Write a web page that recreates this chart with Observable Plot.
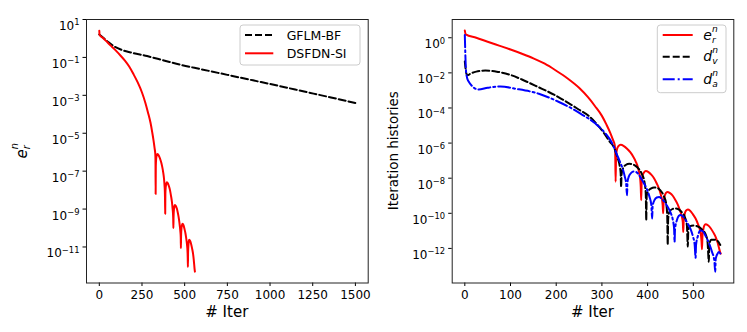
<!DOCTYPE html>
<html><head><meta charset="utf-8">
<script src="https://cdn.jsdelivr.net/npm/d3@7"></script>
<script src="https://cdn.jsdelivr.net/npm/@observablehq/plot@0.6"></script>
<style>
html,body{margin:0;padding:0;background:#fff;}
#root{position:relative;width:747px;height:332px;overflow:hidden;font-family:"DejaVu Sans",sans-serif;}
#root .pan{position:absolute;top:0;}
#root svg.overlay{position:absolute;left:0;top:0;pointer-events:none;}
</style></head><body><div id="root"></div>
<script>
// ---------------- DATA (values are log10 exponents) ----------------
// Left panel: GFLM-BF
const gflmIter = [0, 25, 50, 85, 130, 183, 280, 378, 475, 600, 750, 900, 1050, 1200, 1350, 1500];
const gflmExp  = [0.21, 0.02, -0.17, -0.41, -0.6, -0.74, -0.93, -1.16, -1.39, -1.63, -1.92, -2.21, -2.5, -2.8, -3.1, -3.41];

// DSFDN-SI  (= e_r^n in right panel)
const erIter = [0, 2, 25, 50, 75, 100, 125, 150, 175, 200, 225, 250, 270, 285, 300, 310, 318, 324, 328, 329, 330,
  331, 333, 336, 341, 348, 355, 362, 368, 374, 379, 382, 384, 385, 386,
  387, 389, 392, 396, 402, 408, 414, 420, 425, 429, 432, 433, 434,
  435, 437, 440, 443, 449, 455, 461, 466, 471, 475, 477, 478,
  479, 481, 484, 488, 493, 499, 505, 510, 514, 517, 518, 519,
  520, 522, 524, 527, 532, 538, 544, 549, 553, 556, 558, 560];
const erExp = [0.41, 0.19, 0.0, -0.23, -0.45, -0.67, -0.91, -1.17, -1.48, -1.88, -2.32, -2.85, -3.4, -3.9, -4.45, -4.95, -5.4, -5.8, -6.1, -6.4, -8.2,
  -6.75, -6.35, -6.18, -6.1, -6.17, -6.32, -6.52, -6.75, -7.05, -7.4, -7.75, -8.1, -8.5, -9.25,
  -8.2, -7.85, -7.68, -7.59, -7.65, -7.8, -8.0, -8.3, -8.6, -8.95, -9.3, -9.55, -10.0,
  -9.4, -9.05, -8.85, -8.78, -8.85, -9.0, -9.25, -9.5, -9.85, -10.2, -10.5, -11.06,
  -10.4, -10.05, -9.85, -9.78, -9.85, -10.05, -10.3, -10.6, -10.9, -11.3, -11.6, -12.05,
  -11.3, -10.9, -10.7, -10.62, -10.68, -10.85, -11.1, -11.35, -11.65, -11.95, -12.15, -12.3];

// d_v^n
const dvIter = [0, 1, 3, 6, 12, 25, 45, 70, 100, 125, 160, 198, 235, 250, 271, 290, 305, 318, 326, 330, 335, 339, 341, 342, 343, 346, 352, 360, 366, 372, 380, 388, 393, 396, 397, 398, 401, 408, 414, 421, 428, 436, 441, 443, 444, 445, 448, 455, 462, 468, 475, 482, 486, 488, 489, 492, 500, 510, 520, 527, 531, 534, 535, 539, 545, 552, 559];
const dvExp  = [-1.35, -1.6, -2.0, -2.14, -2.05, -1.93, -1.87, -1.93, -2.12, -2.38, -2.8, -3.28, -3.85, -4.1, -4.45, -4.95, -5.45, -5.95, -6.22, -6.5, -6.9, -7.3, -7.7, -8.5, -7.8, -7.45, -7.25, -7.18, -7.2, -7.27, -7.45, -7.8, -8.2, -8.9, -10.4, -9.0, -8.75, -8.58, -8.53, -8.55, -8.7, -9.05, -9.5, -10.2, -11.8, -10.3, -9.9, -9.75, -9.72, -9.78, -9.95, -10.25, -10.7, -11.9, -11.0, -10.75, -10.7, -10.75, -10.95, -11.2, -11.6, -12.76, -11.8, -11.5, -11.5, -11.55, -11.8];

// d_a^n
const daIter = [0, 1, 2, 3, 7, 30, 50, 78, 110, 162, 206, 235, 253, 286, 308, 320, 326, 332, 340, 346, 350, 353, 355, 356, 359, 364, 369, 375, 382, 390, 398, 404, 408, 410, 411, 415, 420, 425, 432, 442, 450, 455, 458, 459, 460, 464, 468, 472, 478, 486, 494, 499, 503, 505, 506, 510, 515, 520, 527, 535, 541, 546, 548, 549, 553, 556, 559];
const daExp  = [0.15, -0.8, -1.6, -2.0, -2.43, -2.95, -2.85, -2.77, -2.9, -3.19, -3.66, -4.04, -4.32, -4.89, -5.46, -5.9, -6.22, -6.6, -7.1, -7.5, -7.9, -8.3, -8.97, -8.2, -7.9, -7.7, -7.62, -7.65, -7.85, -8.2, -8.6, -9.05, -9.5, -10.3, -9.6, -9.25, -9.1, -9.07, -9.2, -9.55, -9.95, -10.35, -10.9, -11.63, -10.9, -10.4, -10.15, -10.1, -10.2, -10.5, -10.9, -11.3, -11.8, -12.53, -11.8, -11.3, -10.98, -11.0, -11.3, -11.75, -12.2, -12.7, -13.33, -12.6, -12.3, -12.2, -12.29];

// Tick values
const leftXTicks  = [0, 250, 500, 750, 1000, 1250, 1500];
const leftYTickExp  = [1, -1, -3, -5, -7, -9, -11];
const rightXTicks = [0, 100, 200, 300, 400, 500];
const rightYTickExp = [0, -2, -4, -6, -8, -10, -12];

// Labels
const leftLegend  = ["GFLM-BF", "DSFDN-SI"];
const xLabel = "# Iter";
const rightYLabel = "Iteration histories";

// ---------------- BUILD ----------------
const toRows = (it, ex) => it.map((i, k) => ({i, v: 10 ** ex[k]}));
const gflm = toRows(gflmIter, gflmExp);
const er = toRows(erIter, erExp);
const dv = toRows(dvIter, dvExp);
const da = toRows(daIter, daExp);

const DASH = "7,3";
const DASHDOT = "12,3,2,3";
const LW = 2;

function panel(o) {
  return Plot.plot({
    width: o.width, height: 332,
    marginTop: 19, marginBottom: 49.5, marginLeft: o.ml, marginRight: o.mr,
    style: {fontFamily: "DejaVu Sans", fontSize: "12px", color: "#000", background: "transparent", overflow: "visible"},
    x: {domain: o.xDomain, ticks: o.xTicks, tickSize: 3.5, tickPadding: 3.5, label: null, tickFormat: d => String(d)},
    y: {type: "log", domain: o.yDomain, ticks: o.yTicks.map(e => 10 ** e), tickSize: 3.5, tickPadding: 3.5, label: null,
        tickFormat: d => "10^" + Math.round(Math.log10(d))},
    marks: [
      ...o.lines.map(l => Plot.line(l.data, {x: "i", y: "v", stroke: l.color, strokeWidth: LW, strokeDasharray: l.dash, curve: "monotone-x", clip: true})),
      Plot.frame({stroke: "#222", strokeWidth: 1})
    ]
  });
}

const left = panel({
  width: 380, ml: 86, mr: 12.3,
  xDomain: [-75, 1575], xTicks: leftXTicks,
  yDomain: [10 ** -12.9, 10 ** 1.0], yTicks: leftYTickExp,
  lines: [{data: gflm, color: "#000", dash: DASH}, {data: er, color: "#ff0000"}]
});
const right = panel({
  width: 367, ml: 71.7, mr: 13.7,
  xDomain: [-27.6, 588.6], xTicks: rightXTicks,
  yDomain: [10 ** -13.97, 10 ** 1.04], yTicks: rightYTickExp,
  lines: [{data: er, color: "#ff0000"}, {data: dv, color: "#000", dash: DASH}, {data: da, color: "#0000ff", dash: DASHDOT}]
});

const root = document.getElementById("root");
const w1 = document.createElement("div"); w1.className = "pan"; w1.style.left = "0px"; w1.appendChild(left); root.appendChild(w1);
const w2 = document.createElement("div"); w2.className = "pan"; w2.style.left = "380px"; w2.appendChild(right); root.appendChild(w2);

const NS = "http://www.w3.org/2000/svg";
// superscript tick labels
for (const svg of [left, right]) {
  svg.querySelectorAll('g[aria-label="y-axis tick label"] text').forEach(t => {
    const m = t.textContent.match(/^10\^(-?\d+)$/);
    if (!m) return;
    t.textContent = "";
    t.setAttribute("dy", "0.55em");
    const a = document.createElementNS(NS, "tspan"); a.textContent = "10"; t.appendChild(a);
    const b = document.createElementNS(NS, "tspan"); b.textContent = m[1].replace("-", "\u2212");
    b.setAttribute("dy", "-0.55em"); b.setAttribute("font-size", "0.7em"); t.appendChild(b);
  });
}

// overlay for labels & legends
const ov = d3.select(root).append("svg").attr("class", "overlay").attr("width", 747).attr("height", 332)
  .attr("font-family", "DejaVu Sans");

// math label: base with stacked subscript and superscript, all in one text element
function mathText(g0, x, y, base, sub, sup, size, rot, center) {
  const g = g0.append("g").attr("transform", `translate(${x},${y}) rotate(${rot})`);
  const small = size * 0.65;
  const probe = g.append("text").attr("font-style", "italic").attr("font-size", small).text(sub);
  const wSub = probe.node().getComputedTextLength();
  probe.text(sup);
  const wSup = probe.node().getComputedTextLength();
  probe.remove();
  const t = g.append("text").attr("font-style", "italic").attr("font-size", size);
  const tb = t.append("tspan").text(base);
  const wBase = tb.node().getComputedTextLength();
  t.append("tspan").attr("font-size", small).attr("dy", size * 0.22).text(sub);
  t.append("tspan").attr("font-size", small).attr("dx", -wSub).attr("dy", -size * 0.79).text(sup);
  if (center) t.attr("x", -(wBase + Math.max(wSub, wSup)) / 2);
  return g;
}

// x labels
ov.append("text").attr("x", 226.8).attr("y", 316.5).attr("text-anchor", "middle").attr("font-size", 15).text(xLabel);
ov.append("text").attr("x", 592.5).attr("y", 316.5).attr("text-anchor", "middle").attr("font-size", 15).text(xLabel);
// y labels
mathText(ov, 26.5, 150.75, "e", "r", "n", 15, -90, true);
ov.append("text").attr("transform", "translate(397.5,150.75) rotate(-90)").attr("text-anchor", "middle").attr("font-size", 13.5).text(rightYLabel);

// left legend
const lg = ov.append("g");
lg.append("rect").attr("x", 240).attr("y", 25).attr("width", 120).attr("height", 40).attr("rx", 3)
  .attr("fill", "#fff").attr("fill-opacity", 0.8).attr("stroke", "#cccccc");
const leftLeg = [{c: "#000", d: DASH}, {c: "#ff0000", d: null}];
leftLeg.forEach((e, k) => {
  const y = 35 + k * 18.3;
  lg.append("line").attr("x1", 245).attr("x2", 273.3).attr("y1", y).attr("y2", y).attr("stroke", e.c).attr("stroke-width", LW).attr("stroke-dasharray", e.d);
  lg.append("text").attr("x", 286.7).attr("y", y + 4.5).attr("font-size", 12.5).text(leftLegend[k]);
});

// right legend
const rg = ov.append("g");
rg.append("rect").attr("x", 657.3).attr("y", 25).attr("width", 68.7).attr("height", 67.7).attr("rx", 3)
  .attr("fill", "#fff").attr("fill-opacity", 0.8).attr("stroke", "#cccccc");
const rightLeg = [{c: "#ff0000", d: null, b: "e", s: "r"}, {c: "#000", d: DASH, b: "d", s: "v"}, {c: "#0000ff", d: DASHDOT, b: "d", s: "a"}];
rightLeg.forEach((e, k) => {
  const y = [35, 56.7, 79.3][k];
  rg.append("line").attr("x1", 662.7).attr("x2", 692.7).attr("y1", y).attr("y2", y).attr("stroke", e.c).attr("stroke-width", LW).attr("stroke-dasharray", e.d);
  mathText(rg, 703.3, y + 4.5, e.b, e.s, "n", 14, 0, false);
});
</script></body></html>
